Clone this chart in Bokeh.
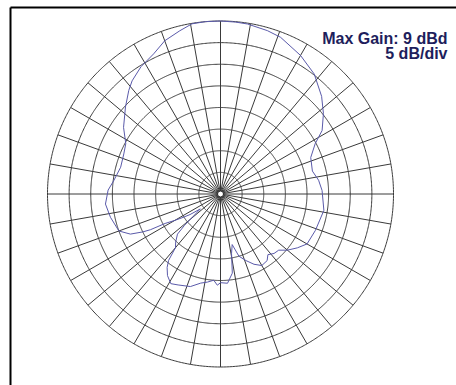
import numpy as np
from bokeh.plotting import figure
from bokeh.models import Range1d
from bokeh.core.properties import value
from bokeh.embed import file_html
from bokeh.resources import INLINE

# ---- data: azimuth (deg, clockwise from top) and gain relative to max (dB)
angles_deg = [0, 5, 9, 16, 21, 30, 38, 46, 52, 58, 62, 68, 76, 82, 88, 99,
              111, 120, 125, 130, 134, 138, 142, 145, 150, 154.5, 159, 163.5,
              167, 169.5, 171.5, 175.5, 180, 182, 184.5, 188.5, 192.5, 198,
              205, 209, 213, 216, 218, 220, 223, 227, 229, 232, 233.5, 236,
              238, 240, 242, 243, 244, 246, 250, 258, 265, 272, 277, 285,
              292.5, 298, 304.5, 312.5, 318.5, 322, 328, 334.5, 340, 346,
              350.5, 355, 360]
gain_db = [0.0, -0.1, -0.2, -0.7, -1.2, -3.0, -4.8, -7.5, -9.8, -12.3, -15.2,
           -17.5, -18.1, -17.1, -16.5, -15.8, -16.5, -16.9, -18.3, -19.8,
           -21.3, -21.5, -22.2, -21.2, -20.9, -22.0, -23.5, -25.0, -28.0,
           -26.0, -21.5, -19.3, -19.5, -18.9, -20.0, -19.4, -18.9, -17.5,
           -16.8, -16.3, -17.5, -19.0, -20.5, -23.8, -24.8, -26.4, -29.0,
           -33.2, -34.2, -31.5, -29.8, -27.8, -25.5, -21.8, -20.0, -17.2,
           -15.0, -14.0, -13.3, -14.0, -15.1, -16.1, -15.8, -15.2, -12.8,
           -10.2, -8.0, -6.8, -5.3, -4.1, -2.3, -1.1, -0.1, 0.0, 0.0]
max_gain_dbd = 9
db_per_div = 5
n_divs = 8
spoke_step_deg = 10
title_lines = [f"Max Gain: {max_gain_dbd} dBd", f"{db_per_div} dB/div"]

# ---- layout (pixels)
W, H = 456, 385
CX, CY, R_PX = 220, 193.5, 173
R_FULL = db_per_div * n_divs           # radius in data units (dB above floor)
S = R_PX / R_FULL                       # px per unit


def px(xp, yp):
    return (xp - CX) / S, (CY - yp) / S


p = figure(width=W, height=H, output_backend="svg", toolbar_location=None,
           x_range=Range1d(-CX / S, (W - CX) / S),
           y_range=Range1d(-(H - CY) / S, CY / S),
           x_axis_location=None, y_axis_location=None, min_border=0)
p.outline_line_color = None
p.xgrid.visible = False
p.ygrid.visible = False
p.background_fill_color = "white"
p.border_fill_color = "white"

grid_color = "#3a3a3a"

# rings
t = np.linspace(0, 2 * np.pi, 721)
rx, ry = [], []
for k in range(1, n_divs + 1):
    r = k * db_per_div
    rx.append(list(r * np.sin(t)))
    ry.append(list(r * np.cos(t)))
p.multi_line(rx, ry, line_color=grid_color, line_width=1)

# spokes
sx, sy = [], []
for a in range(0, 360, spoke_step_deg):
    th = np.radians(a)
    sx.append([0.6 * np.sin(th), R_FULL * np.sin(th)])
    sy.append([0.6 * np.cos(th), R_FULL * np.cos(th)])
p.multi_line(sx, sy, line_color=grid_color, line_width=1)

# centre hole
p.scatter([0], [0], size=6, fill_color="white", line_color="#222222", line_width=1)

# pattern
th = np.radians(np.array(angles_deg))
rr = np.array(gain_db) + R_FULL
p.line(rr * np.sin(th), rr * np.cos(th), line_color="#5a5aaa", line_width=1)

# frame lines (top and left)
x0, y0 = px(10, 7)
x1, y1 = px(W, H)
p.line([x0, x1], [y0, y0], line_color="black", line_width=2)
p.line([x0, x0], [y0, y1], line_color="black", line_width=2)

# title text
for i, txt in enumerate(title_lines):
    tx, ty = px(447, 38 + 15 * i)
    p.text([tx], [ty], text=[txt], text_align="right", text_baseline="alphabetic",
           text_font=value("Liberation Sans"), text_font_style="bold",
           text_font_size="16px", text_color="#1e1e5c")

open("out.html", "w").write(file_html(p, INLINE))
